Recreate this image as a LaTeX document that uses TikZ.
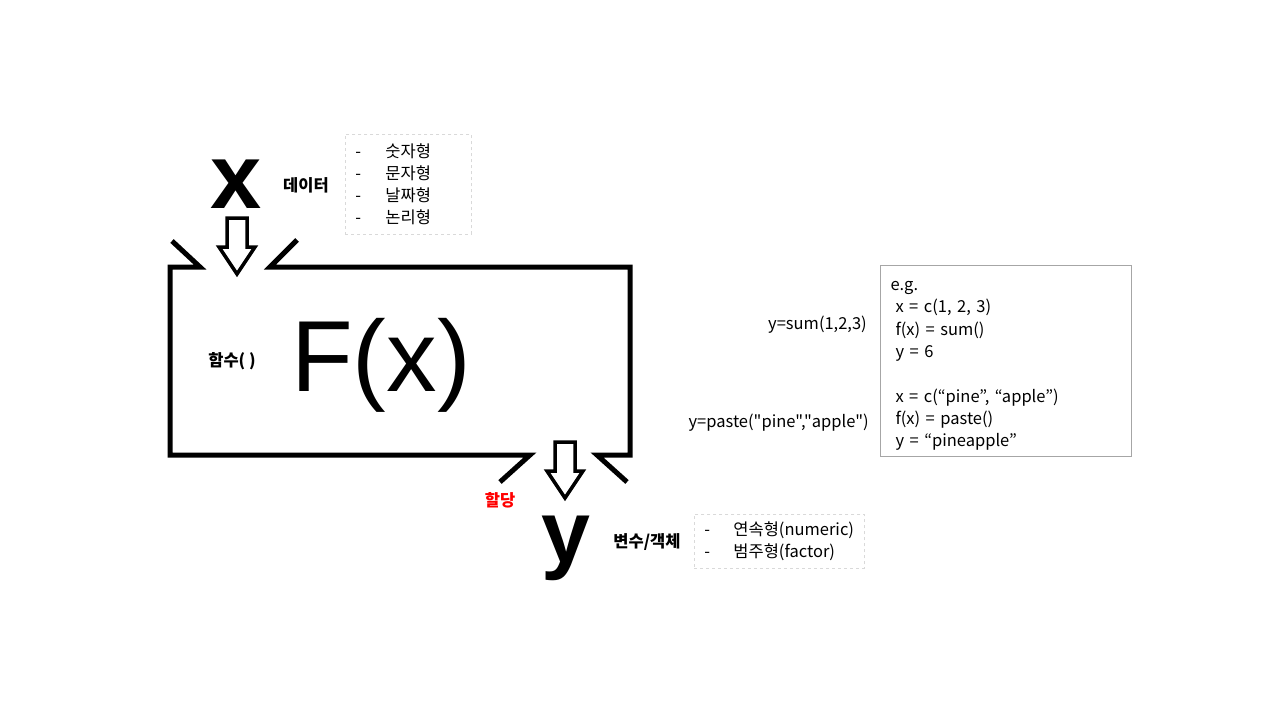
\documentclass[tikz,border=0pt]{standalone}
\usepackage{fontspec}
\setmainfont{Noto Sans CJK KR}[Ligatures=TeXOff]
\newfontfamily\bigfont{Liberation Sans}
\usetikzlibrary{positioning}

\tikzset{
  frame/.style={line width=5pt, line join=miter},
  hollowarrow/.style={line width=3.5pt, line join=miter, fill=white},
  tag/.style={inner sep=0pt, font=\fontsize{16.5}{18}\selectfont\bfseries},
  txt/.style={inner sep=0pt, font=\fontsize{16.5}{18}\selectfont},
  listbox/.style={draw=gray!30, dashed, line width=0.9pt, align=left,
    inner xsep=10pt, inner ysep=0pt, font=\fontsize{16.5}{22}\selectfont},
  codebox/.style={draw=gray!70, line width=1pt, align=left,
    inner xsep=10pt, inner ysep=0pt, font=\fontsize{16.5}{22.3}\selectfont}
}

\begin{document}
\begin{tikzpicture}[x=1pt,y=-1pt]

		\useasboundingbox (0,0) rectangle (1280,720);

		% Frame of the function
		\draw[frame] (172,241) -- (200,267) -- (170,267) -- (170,455) -- (530,455) -- (500,482);
		\draw[frame] (297,240) -- (270,267) -- (630,267) -- (630,455) -- (597,455) -- (627,482);

		% Input and output arrows
		\draw[hollowarrow] (227,218) -- (247,218) -- (247,247) -- (255,247) -- (237,274)
			-- (219,247) -- (227,247) -- cycle;
		\draw[hollowarrow] (555,442) -- (575,442) -- (575,471) -- (583,471) -- (565,498)
			-- (547,471) -- (555,471) -- cycle;

		% Big letters
		\node (xin) [anchor=base, inner sep=0pt, font=\bigfont\bfseries\fontsize{92}{92}\selectfont] at (236,208) {x};
		\node (fx) [anchor=base, inner sep=0pt, font=\bigfont\fontsize{101}{101}\selectfont] at (381,391) {F(x)};
		\node (yout) [anchor=base, inner sep=0pt, font=\bigfont\bfseries\fontsize{88}{88}\selectfont] at (566,562) {y};

		% Labels
		\node (data) [tag] at (306,185) {데이터};
		\node (func) [tag] at (232,361) {함수( )};
		\node (assign) [tag, text=red] at (500,500) {할당};
		\node (var) [tag] at (647,542) {변수/객체};

		% Type lists
		\node (xtypes) [listbox, text width=106pt, minimum height=100pt, anchor=north west] at (345,134)
			{\makebox[30pt][l]{-}숫자형\\ \makebox[30pt][l]{-}문자형\\ \makebox[30pt][l]{-}날짜형\\ \makebox[30pt][l]{-}논리형};
		\node (ytypes) [listbox, text width=150pt, minimum height=54pt, anchor=north west] at (694,514)
			{\makebox[29pt][l]{-}연속형(numeric)\\ \makebox[29pt][l]{-}범주형(factor)};

		% Example
		\node (example) [codebox, text width=231pt, minimum height=191pt, anchor=north west] at (880,265)
			{\raisebox{0pt}[\dimexpr\height+10pt]{e.g.}\\ \hspace*{5pt}x = c(1, 2, 3)\\ \hspace*{5pt}f(x) = sum()\\ \hspace*{5pt}y = 6\\[22.3pt]
			\hspace*{5pt}x = c(“pine”, “apple”)\\ \hspace*{5pt}f(x) = paste()\\ \hspace*{5pt}y = “pineapple”};
		\node (sumcall) [txt, anchor=east] at (867,325) {y=sum(1,2,3)};
		\node (pastecall) [txt, anchor=east] at (869,423) {y=paste("pine","apple")};

\end{tikzpicture}
\end{document}
